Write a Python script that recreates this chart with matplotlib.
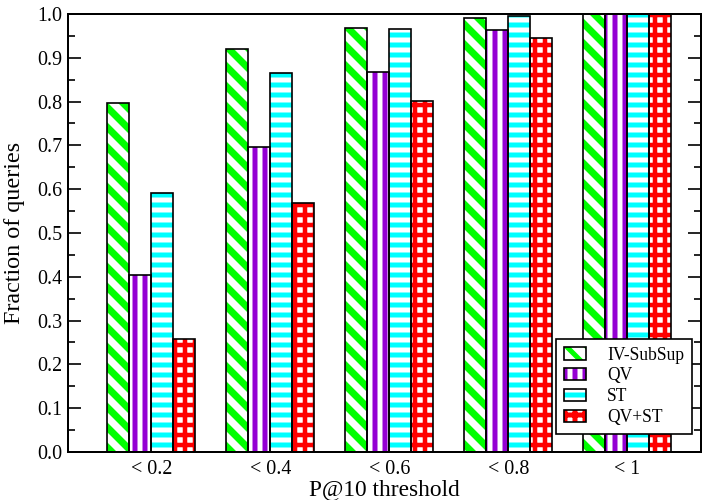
import matplotlib
matplotlib.use("Agg")
import matplotlib.pyplot as plt
import numpy as np
from matplotlib.ticker import MultipleLocator

plt.rcParams['font.family'] = ['Liberation Serif', 'DejaVu Serif']
plt.rcParams['hatch.linewidth'] = 3.0

categories = ["< 0.2", "< 0.4", "< 0.6", "< 0.8", "< 1"]
series_names = ["IV-SubSup", "QV", "ST", "QV+ST"]
iv_subsup = [0.797, 0.920, 0.968, 0.990, 1.000]
qv = [0.403, 0.697, 0.868, 0.963, 1.000]
st = [0.592, 0.865, 0.965, 0.995, 1.000]
qv_st = [0.257, 0.568, 0.802, 0.945, 1.000]
series = [iv_subsup, qv, st, qv_st]

colors = ["#00ff00", "#9400d3", "#00ffff", "#ff0000"]
hatches = ["\\\\", "||", "--", "++"]
hatch_lw = [4.2, 3.0, 3.0, 2.7]

fig = plt.figure(figsize=(7.02 / 1.2, 5.0 / 1.2), dpi=120)
ax = fig.add_axes([68 / 702, 48 / 500, 633 / 702, 438 / 500])

x = np.arange(1, len(categories) + 1)
w = 0.185
handles = []
for i, (vals, c, h, hl) in enumerate(zip(series, colors, hatches, hatch_lw)):
    pos = x + (i - 1.5) * w
    with plt.rc_context({'hatch.linewidth': hl}):
        b = ax.bar(pos, vals, width=w, facecolor="white", edgecolor=c,
                   hatch=h, linewidth=0, zorder=2)
        for p in b:
            if hasattr(p, "set_hatch_linewidth"):
                p.set_hatch_linewidth(hl)
        hp = plt.Rectangle((0, 0), 1, 1, facecolor="white", edgecolor=c,
                           hatch=h, linewidth=0)
        if hasattr(hp, "set_hatch_linewidth"):
            hp.set_hatch_linewidth(hl)
    ax.bar(pos, vals, width=w, facecolor="none", edgecolor="black",
           linewidth=1.0, zorder=3)
    outline = plt.Rectangle((0, 0), 1, 1, facecolor="none",
                            edgecolor="black", linewidth=1.0)
    handles.append((hp, outline))

ax.set_xlim(0.3, 5.62)
ax.set_ylim(0, 1.0)
ax.set_xticks(x)
ax.set_xticklabels(categories, fontsize=12)
ax.yaxis.set_minor_locator(MultipleLocator(0.05))
yt = np.round(np.arange(0, 1.01, 0.1), 1)
ax.set_yticks(yt)
ax.set_yticklabels([f"{v:.1f}" for v in yt], fontsize=12)
ax.tick_params(axis='y', which='major', direction='in', length=8, width=1.0,
               right=True, left=True)
ax.tick_params(axis='y', which='minor', direction='in', length=4, width=1.0,
               right=True, left=True)
ax.tick_params(axis='x', length=0, pad=5)
for s in ax.spines.values():
    s.set_linewidth(1.2)

ax.set_xlabel("P@10 threshold", fontsize=14, labelpad=0)
ax.set_ylabel("Fraction of queries", fontsize=14.5, labelpad=7)

leg = ax.legend(handles, series_names, loc='lower right',
                bbox_to_anchor=(0.986, 0.041), borderaxespad=0,
                fontsize=10.5, fancybox=False, framealpha=1,
                edgecolor='black', handlelength=1.3, handleheight=0.7,
                labelspacing=0.22, handletextpad=1.2, borderpad=0.45)
leg.get_frame().set_linewidth(1.0)
leg.set_zorder(5)

fig.savefig("out.png", dpi=120)
